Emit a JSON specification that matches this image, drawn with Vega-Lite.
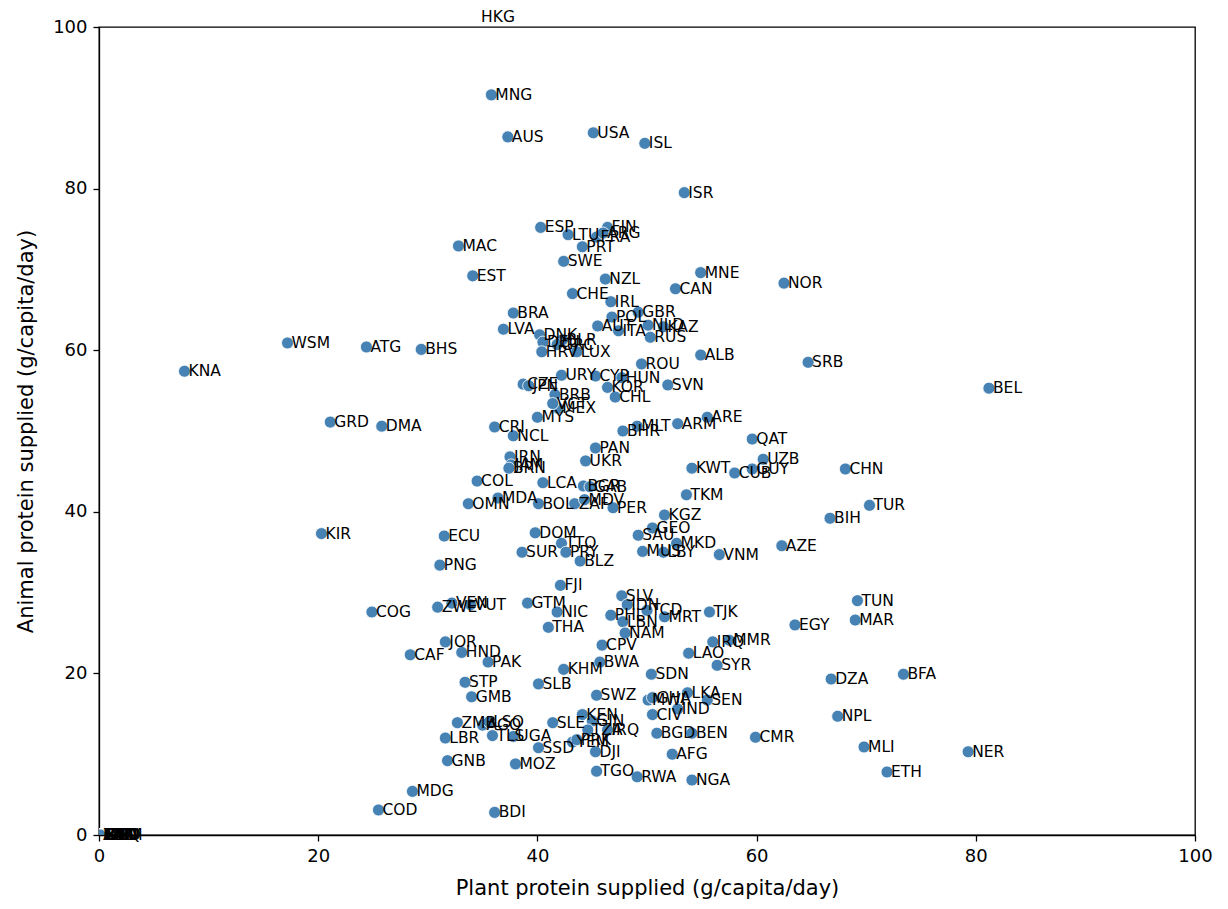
{
  "$schema": "https://vega.github.io/schema/vega-lite/v6.json",
  "autosize": "none",
  "width": 1096,
  "height": 808,
  "padding": {"left": 99, "top": 27, "right": 33, "bottom": 74},
  "background": "white",
  "config": {
    "view": {"stroke": "black", "strokeWidth": 1.3},
    "font": "DejaVu Sans",
    "axis": {
      "grid": false, "domainColor": "black", "tickColor": "black",
      "labelColor": "black", "titleColor": "black", "domainWidth": 1.3, "tickWidth": 1.3,
      "labelFontSize": 18, "titleFontSize": 21, "titleFontWeight": "normal",
      "tickSize": 6, "labelPadding": 6, "labelFlush": false, "titlePadding": 12,
      "labelFont": "DejaVu Sans", "titleFont": "DejaVu Sans"
    }
  },
  "data": {"values": [
    {"c":"HKG","x":34.5,"y":101.2},
    {"c":"MNG","x":35.8,"y":91.6},
    {"c":"AUS","x":37.3,"y":86.4},
    {"c":"USA","x":45.1,"y":86.9},
    {"c":"ISL","x":49.8,"y":85.6},
    {"c":"ISR","x":53.4,"y":79.5},
    {"c":"ESP","x":40.3,"y":75.2},
    {"c":"FIN","x":46.4,"y":75.2},
    {"c":"LTU","x":42.8,"y":74.3},
    {"c":"FRA","x":45.4,"y":74.0},
    {"c":"ARG","x":46.0,"y":74.5},
    {"c":"PRT","x":44.1,"y":72.8},
    {"c":"MAC","x":32.8,"y":72.9},
    {"c":"SWE","x":42.4,"y":71.0},
    {"c":"EST","x":34.1,"y":69.2},
    {"c":"NZL","x":46.2,"y":68.8},
    {"c":"MNE","x":54.9,"y":69.6},
    {"c":"NOR","x":62.5,"y":68.3},
    {"c":"CAN","x":52.6,"y":67.6},
    {"c":"CHE","x":43.2,"y":67.0},
    {"c":"IRL","x":46.7,"y":66.0},
    {"c":"GBR","x":49.2,"y":64.7},
    {"c":"POL","x":46.8,"y":64.1},
    {"c":"BRA","x":37.8,"y":64.6},
    {"c":"LVA","x":36.9,"y":62.6},
    {"c":"AUT","x":45.5,"y":63.0},
    {"c":"ITA","x":47.4,"y":62.4},
    {"c":"NLD","x":50.1,"y":63.1},
    {"c":"KAZ","x":51.5,"y":62.9},
    {"c":"RUS","x":50.3,"y":61.6},
    {"c":"DNK","x":40.2,"y":61.9},
    {"c":"DEU","x":40.5,"y":61.0},
    {"c":"BLR","x":42.3,"y":61.3},
    {"c":"GRC","x":41.8,"y":60.7},
    {"c":"HRV","x":40.4,"y":59.8},
    {"c":"LUX","x":43.6,"y":59.8},
    {"c":"ALB","x":54.9,"y":59.4},
    {"c":"SRB","x":64.7,"y":58.5},
    {"c":"BEL","x":81.2,"y":55.3},
    {"c":"KNA","x":7.8,"y":57.4},
    {"c":"WSM","x":17.2,"y":60.9},
    {"c":"ATG","x":24.4,"y":60.4},
    {"c":"BHS","x":29.4,"y":60.1},
    {"c":"ROU","x":49.5,"y":58.3},
    {"c":"URY","x":42.2,"y":56.9},
    {"c":"CYP","x":45.3,"y":56.8},
    {"c":"HUN","x":47.7,"y":56.6},
    {"c":"KOR","x":46.4,"y":55.4},
    {"c":"CHL","x":47.1,"y":54.2},
    {"c":"SVN","x":51.9,"y":55.7},
    {"c":"CZE","x":38.7,"y":55.8},
    {"c":"JPN","x":39.2,"y":55.6},
    {"c":"BRB","x":41.6,"y":54.5},
    {"c":"MEX","x":41.9,"y":52.8},
    {"c":"VCT","x":41.4,"y":53.4},
    {"c":"MYS","x":40.0,"y":51.7},
    {"c":"CRI","x":36.1,"y":50.5},
    {"c":"NCL","x":37.8,"y":49.4},
    {"c":"BHR","x":47.8,"y":50.0},
    {"c":"MLT","x":49.1,"y":50.6},
    {"c":"ARM","x":52.8,"y":50.9},
    {"c":"ARE","x":55.5,"y":51.7},
    {"c":"PAN","x":45.3,"y":47.9},
    {"c":"UKR","x":44.4,"y":46.3},
    {"c":"IRN","x":37.5,"y":46.8},
    {"c":"JAM","x":37.6,"y":45.8},
    {"c":"BRN","x":37.4,"y":45.4},
    {"c":"KWT","x":54.1,"y":45.4},
    {"c":"COL","x":34.5,"y":43.8},
    {"c":"LCA","x":40.5,"y":43.6},
    {"c":"BGR","x":44.2,"y":43.2},
    {"c":"GAB","x":44.8,"y":43.1},
    {"c":"MDA","x":36.4,"y":41.7},
    {"c":"OMN","x":33.7,"y":41.0},
    {"c":"BOL","x":40.1,"y":41.0},
    {"c":"ZAF","x":43.4,"y":41.0},
    {"c":"MDV","x":44.3,"y":41.5},
    {"c":"PER","x":46.9,"y":40.5},
    {"c":"TKM","x":53.6,"y":42.1},
    {"c":"KGZ","x":51.6,"y":39.6},
    {"c":"QAT","x":59.6,"y":49.0},
    {"c":"UZB","x":60.6,"y":46.5},
    {"c":"GUY","x":59.6,"y":45.3},
    {"c":"CUB","x":58.0,"y":44.8},
    {"c":"CHN","x":68.1,"y":45.3},
    {"c":"BIH","x":66.7,"y":39.2},
    {"c":"TUR","x":70.3,"y":40.8},
    {"c":"AZE","x":62.3,"y":35.8},
    {"c":"VNM","x":56.6,"y":34.7},
    {"c":"DOM","x":39.8,"y":37.4},
    {"c":"TTO","x":42.2,"y":36.1},
    {"c":"PRY","x":42.6,"y":35.0},
    {"c":"SUR","x":38.6,"y":35.0},
    {"c":"BLZ","x":43.9,"y":33.9},
    {"c":"SAU","x":49.2,"y":37.1},
    {"c":"GEO","x":50.5,"y":38.0},
    {"c":"MUS","x":49.6,"y":35.1},
    {"c":"LBY","x":51.5,"y":35.0},
    {"c":"MKD","x":52.7,"y":36.1},
    {"c":"FJI","x":42.1,"y":30.9},
    {"c":"GTM","x":39.1,"y":28.7},
    {"c":"NIC","x":41.8,"y":27.6},
    {"c":"THA","x":41.0,"y":25.7},
    {"c":"SLV","x":47.7,"y":29.6},
    {"c":"IDN","x":48.2,"y":28.5},
    {"c":"PHL","x":46.7,"y":27.2},
    {"c":"LBN","x":47.8,"y":26.4},
    {"c":"TCD","x":50.0,"y":27.8},
    {"c":"MRT","x":51.6,"y":27.0},
    {"c":"TJK","x":55.7,"y":27.6},
    {"c":"NAM","x":48.0,"y":25.0},
    {"c":"ZWE","x":30.9,"y":28.2},
    {"c":"VEN","x":32.2,"y":28.7},
    {"c":"VUT","x":33.9,"y":28.5},
    {"c":"COG","x":24.9,"y":27.6},
    {"c":"IRQ","x":56.0,"y":23.9},
    {"c":"MMR","x":57.5,"y":24.1},
    {"c":"EGY","x":63.5,"y":26.0},
    {"c":"TUN","x":69.2,"y":29.0},
    {"c":"MAR","x":69.0,"y":26.6},
    {"c":"JOR","x":31.6,"y":23.9},
    {"c":"CAF","x":28.4,"y":22.3},
    {"c":"HND","x":33.1,"y":22.6},
    {"c":"PAK","x":35.5,"y":21.4},
    {"c":"CPV","x":45.9,"y":23.5},
    {"c":"BWA","x":45.7,"y":21.4},
    {"c":"KHM","x":42.4,"y":20.5},
    {"c":"LAO","x":53.8,"y":22.5},
    {"c":"SYR","x":56.4,"y":21.0},
    {"c":"SDN","x":50.4,"y":19.9},
    {"c":"STP","x":33.4,"y":18.9},
    {"c":"SLB","x":40.1,"y":18.7},
    {"c":"GMB","x":34.0,"y":17.1},
    {"c":"SWZ","x":45.4,"y":17.3},
    {"c":"MWI","x":50.1,"y":16.7},
    {"c":"GHA","x":50.5,"y":17.0},
    {"c":"LKA","x":53.7,"y":17.6},
    {"c":"SEN","x":55.5,"y":16.7},
    {"c":"IND","x":52.8,"y":15.6},
    {"c":"CIV","x":50.5,"y":14.9},
    {"c":"ZMB","x":32.7,"y":13.9},
    {"c":"AGO","x":35.0,"y":13.6},
    {"c":"LSO","x":35.6,"y":14.0},
    {"c":"TLS","x":35.9,"y":12.3},
    {"c":"UGA","x":37.8,"y":12.2},
    {"c":"LBR","x":31.6,"y":12.0},
    {"c":"GNB","x":31.8,"y":9.2},
    {"c":"MOZ","x":38.0,"y":8.8},
    {"c":"SLE","x":41.4,"y":13.9},
    {"c":"KEN","x":44.1,"y":14.9},
    {"c":"GIN","x":45.0,"y":14.1},
    {"c":"TZA","x":44.6,"y":13.0},
    {"c":"IRQ","x":46.4,"y":13.0},
    {"c":"SSD","x":40.1,"y":10.8},
    {"c":"YEM","x":43.2,"y":11.5},
    {"c":"PRK","x":43.6,"y":11.8},
    {"c":"DJI","x":45.3,"y":10.3},
    {"c":"TGO","x":45.4,"y":7.9},
    {"c":"RWA","x":49.1,"y":7.2},
    {"c":"NGA","x":54.1,"y":6.8},
    {"c":"AFG","x":52.3,"y":10.0},
    {"c":"BGD","x":50.9,"y":12.6},
    {"c":"BEN","x":54.1,"y":12.6},
    {"c":"CMR","x":59.9,"y":12.1},
    {"c":"NPL","x":67.4,"y":14.7},
    {"c":"MLI","x":69.8,"y":10.9},
    {"c":"ETH","x":71.9,"y":7.8},
    {"c":"NER","x":79.3,"y":10.3},
    {"c":"BFA","x":73.4,"y":19.9},
    {"c":"DZA","x":66.8,"y":19.3},
    {"c":"MDG","x":28.6,"y":5.4},
    {"c":"COD","x":25.5,"y":3.1},
    {"c":"BDI","x":36.1,"y":2.8},
    {"c":"GRD","x":21.1,"y":51.1},
    {"c":"DMA","x":25.8,"y":50.6},
    {"c":"KIR","x":20.3,"y":37.3},
    {"c":"ECU","x":31.5,"y":37.0},
    {"c":"PNG","x":31.1,"y":33.4},
    {"c":"AND","x":0,"y":0},
    {"c":"BMU","x":0.1,"y":0},
    {"c":"BTN","x":0.2,"y":0},
    {"c":"COM","x":0.3,"y":0},
    {"c":"ERI","x":0.1,"y":0},
    {"c":"GNQ","x":0.2,"y":0},
    {"c":"LIE","x":0.3,"y":0},
    {"c":"MCO","x":0,"y":0},
    {"c":"SYC","x":0.2,"y":0},
    {"c":"TON","x":0.1,"y":0}
  ]},
  "encoding": {
    "x": {"field": "x", "type": "quantitative", "scale": {"domain": [0, 100], "nice": false, "zero": false}, "axis": {"values": [0, 20, 40, 60, 80, 100], "title": "Plant protein supplied (g/capita/day)"}},
    "y": {"field": "y", "type": "quantitative", "scale": {"domain": [0, 100], "nice": false, "zero": false}, "axis": {"values": [0, 20, 40, 60, 80, 100], "title": "Animal protein supplied (g/capita/day)", "titlePadding": 16}}
  },
  "layer": [
    {"mark": {"type": "point", "filled": true, "shape": "circle", "size": 145, "color": "#4682b4", "opacity": 1, "stroke": "white", "strokeWidth": 0.8, "clip": true}},
    {"mark": {"type": "text", "align": "left", "baseline": "middle", "dx": 4, "fontSize": 15.5, "color": "black", "font": "DejaVu Sans"}, "encoding": {"text": {"field": "c"}}}
  ]
}
